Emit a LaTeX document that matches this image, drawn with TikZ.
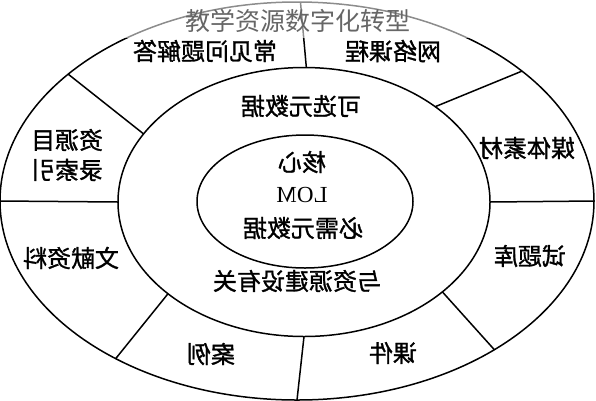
\documentclass[tikz,border=0pt]{standalone}
\usepackage{fontspec}
\setmainfont{Liberation Serif}
\newfontfamily\cjk{Noto Sans CJK SC}
\newfontfamily\cjkbold[FakeBold=1.2]{Noto Sans CJK SC}
\usetikzlibrary{shapes.geometric}
\tikzset{
	ring/.style={draw=black,ellipse,line width=1.5pt,inner sep=0pt,outer sep=0pt},
	divide/.style={draw=black,line width=1.5pt},
	lbl/.style={align=center,black,xscale=-1,inner sep=0pt,font=\cjkbold\fontsize{24}{30}\selectfont},
}
\begin{document}
\begin{tikzpicture}[x=1pt,y=-1pt]
	\useasboundingbox (0,0) rectangle (596,400);
	% three rings
	\node[ring,minimum width=594pt,minimum height=398pt] (outer) at (297,201) {};
	\node[ring,minimum width=372pt,minimum height=269pt] (mid) at (304,202) {};
	\node[ring,minimum width=216pt,minimum height=133pt] (inner) at (305,201.5) {};
	% spokes of the outer ring
	\draw[divide] (outer.89.7) -- (mid.89.6);
	\draw[divide] (outer.30.4) -- (mid.36.1);
	\draw[divide] (outer.0) -- (mid.0);
	\draw[divide] (outer.-37.9) -- (mid.-33.2);
	\draw[divide] (outer.-90) -- (mid.-90.4);
	\draw[divide] (outer.221.6) -- (mid.214.4);
	\draw[divide] (outer.180) -- (mid.180);
	\draw[divide] (outer.151.8) -- (mid.157.1);
	\fill[white,opacity=0.55] (0,0) rectangle (596,38);
	% outer ring
	\node[lbl] (qa) at (205,51) {常见问题解答};
	\node[lbl] (net) at (393,51) {网络课程};
	\node[lbl] (media) at (527,148) {媒体素材};
	\node[lbl] (index) at (67,155) {资源目\\录索引};
	\node[lbl] (lit) at (71,258) {文献资料};
	\node[lbl] (bank) at (530,256) {试题库};
	\node[lbl] (case) at (211,354) {案例};
	\node[lbl] (ware) at (393,353) {课件};
	% middle ring
	\node[lbl] (opt) at (301,106) {可选元数据};
	\node[lbl] (rel) at (297,281) {与资源建设有关};
	% core
	\node[lbl] (core) at (302,162) {核心};
	\node[lbl,font=\fontsize{23}{28}\selectfont] (lom) at (302,195) {LOM};
	\node[lbl] (must) at (303,228) {必需元数据};
	\node[font=\cjk\fontsize{25}{30}\selectfont,text=black!60,inner sep=0pt] (title) at (298,21) {教学资源数字化转型};
\end{tikzpicture}
\end{document}
